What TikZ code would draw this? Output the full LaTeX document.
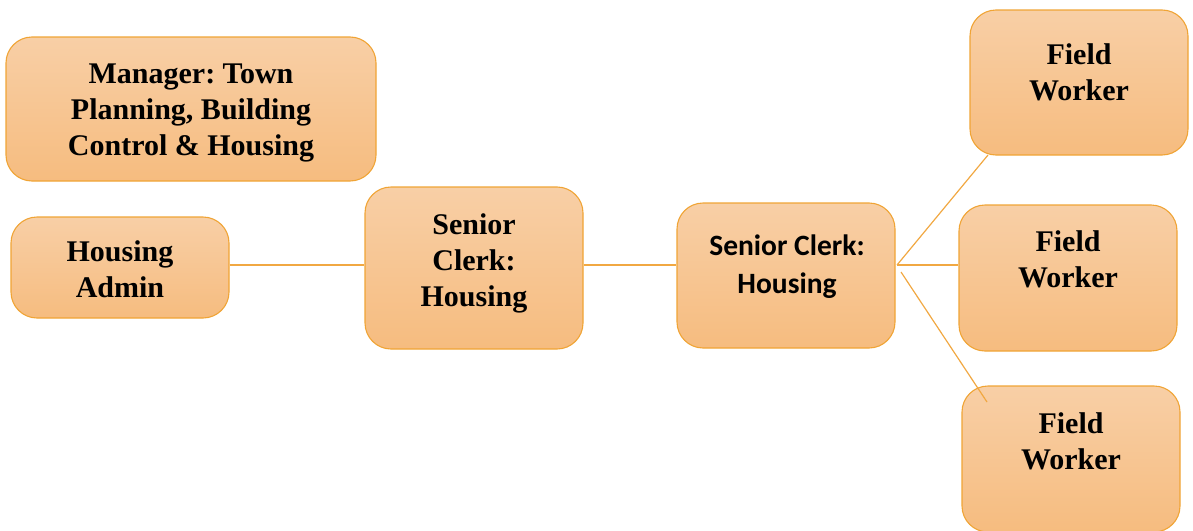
\documentclass[tikz,border=0pt]{standalone}
\usepackage{fontspec}
\setmainfont{Liberation Serif}
\newfontfamily\calibrifont{Carlito}
\frenchspacing
\definecolor{boxtop}{HTML}{F8CFA6}
\definecolor{boxbot}{HTML}{F6BC7F}
\definecolor{boxedge}{HTML}{F0A435}
\definecolor{linkcol}{HTML}{F1A842}
\tikzset{
  box/.style={draw=boxedge, line width=1.1pt, rounded corners=26pt,
    top color=boxtop, bottom color=boxbot, inner sep=0pt},
  label/.style={align=center, inner sep=0pt,
    font=\fontsize{30}{36}\selectfont\bfseries},
  clabel/.style={align=center, inner sep=0pt,
    font=\fontsize{29.5}{38}\selectfont\calibrifont\bfseries},
  link/.style={draw=linkcol, line width=1.2pt}
}
\begin{document}
\begin{tikzpicture}[x=1pt,y=-1pt]
\useasboundingbox (0,0) rectangle (1193,530);
\clip (0,0) rectangle (1193,530);

% boxes
\node[box, minimum width=370pt, minimum height=144pt] (mgr) at (191,109) {};
\node[box, minimum width=218pt, minimum height=101pt] (admin) at (120,267.5) {};
\node[box, minimum width=218pt, minimum height=162pt] (mid) at (474,268) {};
\node[box, minimum width=218pt, minimum height=145pt] (sc) at (786,275.5) {};
\node[box, minimum width=218pt, minimum height=145pt] (fw1) at (1079,82.5) {};
\node[box, minimum width=218pt, minimum height=146pt] (fw2) at (1068,278) {};
\node[box, minimum width=218pt, minimum height=146pt] (fw3) at (1071,459) {};

% texts
\node[label] (mgr-t) at (191,113) {Manager: Town\\Planning, Building\\Control \& Housing};
\node[label] (admin-t) at (120,269) {Housing\\Admin};
\node[label] (mid-t) at (474,263) {Senior\\Clerk:\\Housing};
\node[clabel] (sc-t) at (787,267) {Senior Clerk:\\Housing};
\node[label] (fw1-t) at (1079,72) {Field\\Worker};
\node[label] (fw2-t) at (1068,259) {Field\\Worker};
\node[label] (fw3-t) at (1071,441) {Field\\Worker};

% connectors
\coordinate (hub) at (897,265);
\coordinate (hubb) at (901,272);
\coordinate (fw1-end) at (988,155);
\coordinate (fw3-end) at (987,402);
\draw[link] (admin.east |- hub) -- (mid.west |- hub);
\draw[link] (mid.east |- hub) -- (sc.west |- hub);
\draw[link] (hub) -- (fw1-end);
\draw[link] (hub) -- (fw2.west |- hub);
\draw[link] (hubb) -- (fw3-end);
\end{tikzpicture}
\end{document}
